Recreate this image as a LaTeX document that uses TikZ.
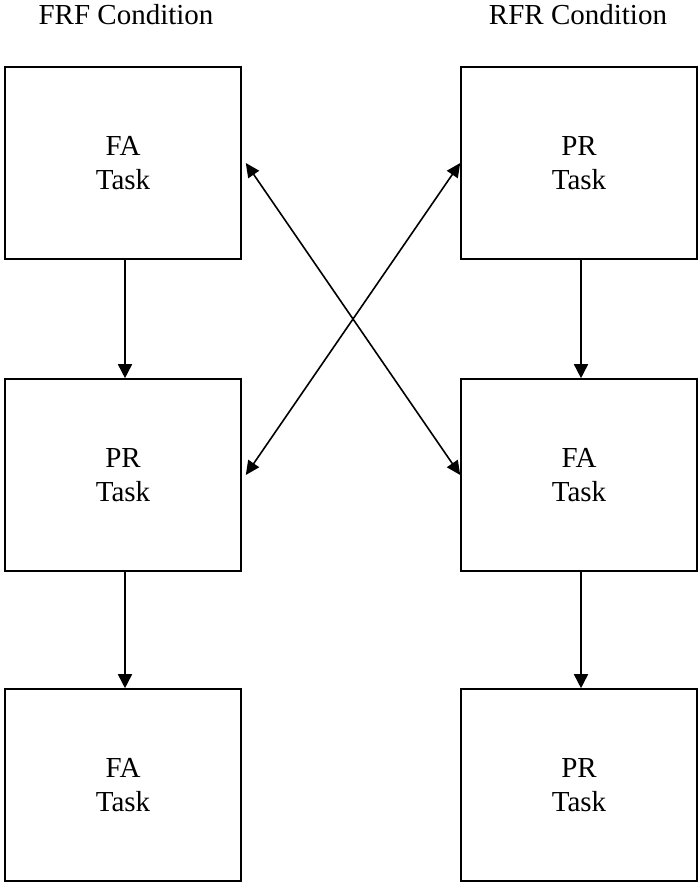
\documentclass[tikz,border=0pt]{standalone}
\usepackage{fontspec}
\setmainfont{Liberation Serif}
\usetikzlibrary{arrows.meta}
\begin{document}
\begin{tikzpicture}[x=1pt,y=-1pt,
  taskbox/.style={draw,line width=1.6pt,minimum width=236pt,minimum height=192pt,inner sep=0pt,align=center,font=\fontsize{29}{34}\selectfont},
  title/.style={anchor=base,font=\fontsize{29}{34}\selectfont},
  conn/.style={line width=1.6pt,-{Triangle[length=14pt,width=14pt]}},
  dconn/.style={line width=1.6pt,{Triangle[length=14pt,width=13pt]}-{Triangle[length=14pt,width=13pt]}}]
\useasboundingbox (0,0) rectangle (697,882);
\node[title] (t1) at (126,25) {FRF Condition};
\node[title] (t2) at (578,25) {RFR Condition};
\node[taskbox] (tl) at (123,163) {FA\\Task};
\node[taskbox] (ml) at (123,475) {PR\\Task};
\node[taskbox] (bl) at (123,785) {FA\\Task};
\node[taskbox] (tr) at (579,163) {PR\\Task};
\node[taskbox] (mr) at (579,475) {FA\\Task};
\node[taskbox] (br) at (579,785) {PR\\Task};
\draw[conn] ([xshift=2pt]tl.south) -- ([xshift=2pt]ml.north);
\draw[conn] ([xshift=2pt]ml.south) -- ([xshift=2pt]bl.north);
\draw[conn] ([xshift=2pt]tr.south) -- ([xshift=2pt]mr.north);
\draw[conn] ([xshift=2pt]mr.south) -- ([xshift=2pt]br.north);
\coordinate (a1) at ([xshift=4pt]tl.east);
\coordinate (a2) at ([xshift=4pt]ml.east);
\draw[dconn] (a1) -- (mr.west);
\draw[dconn] (a2) -- (tr.west);
\end{tikzpicture}
\end{document}
